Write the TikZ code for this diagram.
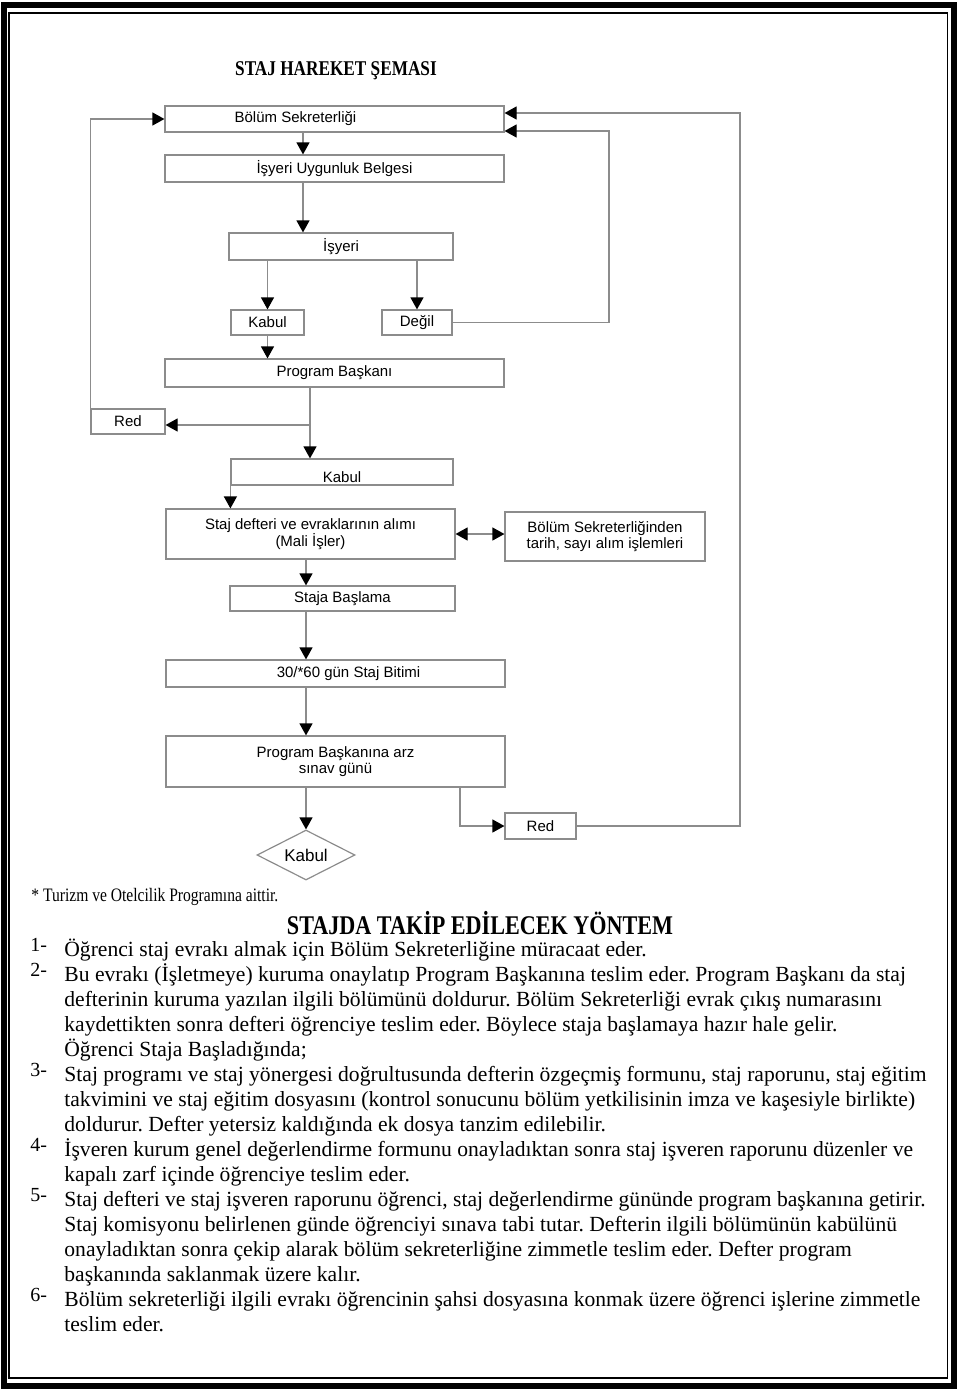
\documentclass[tikz,border=0pt]{standalone}
\usepackage{fontspec}
\setmainfont{Liberation Serif}
\newfontfamily\flowfont{Liberation Sans}
\newfontfamily\condfont[FakeStretch=0.82]{Liberation Serif}
\usetikzlibrary{shapes.geometric, arrows.meta, positioning, calc}

\definecolor{linegray}{gray}{0.55}

\begin{document}
\frenchspacing
\begin{tikzpicture}[x=0.5pt, y=-0.5pt,
  >={Triangle[length=6pt, width=6.5pt, color=black]},
  boxtext/.style={font={\flowfont\fontsize{7.5}{8.2}\selectfont}},
  box/.style={boxtext, draw=linegray, line width=0.6pt, inner sep=0pt, align=center},
  flow/.style={draw=linegray, line width=0.6pt, ->},
  item/.style={font={\fontsize{10.8}{12.5}\selectfont}, align=left, anchor=base west, inner sep=0pt},
  num/.style={font={\fontsize{10}{12}\selectfont}, anchor=base west, inner sep=0pt}]

\useasboundingbox (0,0) rectangle (960,1394);

% Page frame
\draw[line width=3pt] (4,4.5) rectangle (954,1386);
\draw[line width=0.75pt] (9,13) rectangle (947.5,1378);

% Title
\node[font={\condfont\bfseries\fontsize{10.5}{12}\selectfont}, anchor=base, inner sep=0pt] (title) at (336,75.5) {STAJ HAREKET ŞEMASI};

% Boxes
\node[box, minimum width=169.5pt, minimum height=13pt,
  label={[boxtext, xshift=-19.5pt]center:Bölüm Sekreterliği}] (bs) at (334.5,119) {};
\node[box, minimum width=169.5pt, minimum height=13.5pt] (iub) at (334.5,168.5) {İşyeri Uygunluk Belgesi};
\node[box, minimum width=112pt, minimum height=13.5pt] (isy) at (341,246.5) {İşyeri};
\node[box, minimum width=36.5pt, minimum height=12.5pt] (kab1) at (267.5,322.5) {Kabul};
\node[box, minimum width=35pt, minimum height=12.5pt] (deg) at (417,322.5) {Değil};
\node[box, minimum width=169.5pt, minimum height=14pt] (pb) at (334.5,373) {Program Başkanı};
\node[box, minimum width=37pt, minimum height=12.5pt] (red1) at (128,421.5) {Red};
\node[box, minimum width=111pt, minimum height=13pt,
  label={[boxtext, yshift=-2.5pt]center:Kabul}] (kab2) at (342,472) {};
\node[box, minimum width=144.5pt, minimum height=25pt] (sd) at (310.5,534) {Staj defteri ve evraklarının alımı\\(Mali İşler)};
\node[box, minimum width=100pt, minimum height=24.5pt] (bsk) at (605,536.5) {Bölüm Sekreterliğinden\\tarih, sayı alım işlemleri};
\node[box, minimum width=112.5pt, minimum height=12.5pt] (sb) at (342.5,598.5) {Staja Başlama};
\node[box, minimum width=169.5pt, minimum height=13.5pt,
  label={[boxtext, xshift=6.5pt]center:30/*60 gün Staj Bitimi}] (bit) at (335.5,673.5) {};
\node[box, minimum width=169.5pt, minimum height=25.5pt] (arz) at (335.5,761.5) {Program Başkanına arz\\sınav günü};
\node[box, diamond, aspect=2, minimum width=49pt, minimum height=25pt,
  font={\flowfont\fontsize{8.5}{10}\selectfont}] (kab3) at (306,855) {Kabul};
\node[box, minimum width=35.5pt, minimum height=13pt] (red2) at (540.5,826) {Red};

% Connectors
\coordinate (spine) at (303,0);
\coordinate (split) at (310,425);
\coordinate (redtap) at (460,787);
\coordinate (rail1) at (609,131);
\coordinate (rail2) at (740,113);

\draw[flow] (bs.south -| spine) -- (iub.north -| spine);
\draw[flow] (iub.south -| spine) -- (isy.north -| spine);
\draw[flow] (kab1.north |- isy.south) -- (kab1.north);
\draw[flow] (deg.north |- isy.south) -- (deg.north);
\draw[flow] (kab1.south) -- (kab1.south |- pb.north);
\draw[flow] (deg.east) -| (rail1) -- (rail1 -| bs.east);
\draw[flow] (pb.south -| split) -- (kab2.north -| split);
\draw[flow] (split) -- (split -| red1.east);
\draw[flow] (red1.north west) |- (bs.west);
\draw[flow] (kab2.south west) -- (kab2.south west |- sd.north);
\draw[flow, <->] (sd.east) -- (sd.east -| bsk.west);
\draw[flow] (sd.south -| kab3) -- (sb.north -| kab3);
\draw[flow] (sb.south -| kab3) -- (bit.north -| kab3);
\draw[flow] (bit.south -| kab3) -- (arz.north -| kab3);
\draw[flow] (arz.south -| kab3) -- (kab3.north);
\draw[flow] (redtap) |- (red2.west);
\draw[flow] (red2.east) -| (rail2) -- (rail2 -| bs.east);

% Footnote
\node[font={\condfont\fontsize{9.5}{11}\selectfont}, anchor=base west, inner sep=0pt] (note) at (31,901) {* Turizm ve Otelcilik Programına aittir.};

% Method (multi-line nodes sit on their last baseline)
\node[font={\condfont\bfseries\fontsize{13.5}{16}\selectfont}, anchor=base, inner sep=0pt] (method) at (480,934) {STAJDA TAKİP EDİLECEK YÖNTEM};

\node[num] (n1) at (30,951) {1-};
\node[item] (step1) at (64,956) {Öğrenci staj evrakı almak için Bölüm Sekreterliğine müracaat eder.};

\node[num] (n2) at (30,976) {2-};
\node[item] (step2) at (64,1056) {Bu evrakı (İşletmeye) kuruma onaylatıp Program Başkanına teslim eder. Program Başkanı da staj\\
defterinin kuruma yazılan ilgili bölümünü doldurur. Bölüm Sekreterliği evrak çıkış numarasını\\
kaydettikten sonra defteri öğrenciye teslim eder. Böylece staja başlamaya hazır hale gelir.\\
Öğrenci Staja Başladığında;};

\node[num] (n3) at (30,1076) {3-};
\node[item] (step3) at (64,1131) {Staj programı ve staj yönergesi doğrultusunda defterin özgeçmiş formunu, staj raporunu, staj eğitim\\
takvimini ve staj eğitim dosyasını (kontrol sonucunu bölüm yetkilisinin imza ve kaşesiyle birlikte)\\
doldurur. Defter yetersiz kaldığında ek dosya tanzim edilebilir.};

\node[num] (n4) at (30,1151) {4-};
\node[item] (step4) at (64,1181) {İşveren kurum genel değerlendirme formunu onayladıktan sonra staj işveren raporunu düzenler ve\\
kapalı zarf içinde öğrenciye teslim eder.};

\node[num] (n5) at (30,1201) {5-};
\node[item] (step5) at (64,1281) {Staj defteri ve staj işveren raporunu öğrenci, staj değerlendirme gününde program başkanına getirir.\\
Staj komisyonu belirlenen günde öğrenciyi sınava tabi tutar. Defterin ilgili bölümünün kabülünü\\
onayladıktan sonra çekip alarak bölüm sekreterliğine zimmetle teslim eder. Defter program\\
başkanında saklanmak üzere kalır.};

\node[num] (n6) at (30,1301) {6-};
\node[item] (step6) at (64,1331) {Bölüm sekreterliği ilgili evrakı öğrencinin şahsi dosyasına konmak üzere öğrenci işlerine zimmetle\\
teslim eder.};
\end{tikzpicture}
\end{document}
